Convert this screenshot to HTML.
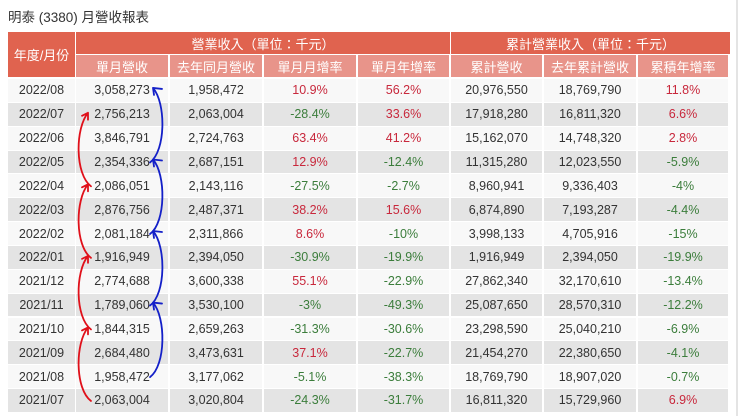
<!DOCTYPE html>
<html><head><meta charset="utf-8">
<style>
body{margin:0;width:740px;height:416px;background:#fff;overflow:hidden;font-family:"Liberation Sans","Noto Sans CJK TC",sans-serif;position:relative}
.c{position:absolute;display:flex;align-items:center;justify-content:center;box-sizing:border-box;font-size:12.5px;color:#333;white-space:nowrap}
.h1{background:#e0634f;color:#fff;font-size:13px}
.h2{background:#e8948a;color:#fff;font-size:13px}
.r{color:#c8283c}.g{color:#3b7d3b}
#title{position:absolute;left:8px;top:6px;font-size:13.5px;color:#333}
#edge{position:absolute;left:736px;top:0;width:2px;height:416px;background:#e4e4e4}
</style></head><body>
<div id="title">明泰 (3380) 月營收報表</div>
<div id="edge"></div>
<div id="tbl"></div>
<svg id="arrows" width="740" height="416" style="position:absolute;left:0;top:0" fill="none" stroke-width="1.8" stroke-linecap="round"></svg>
<script>
const months=["2022/08","2022/07","2022/06","2022/05","2022/04","2022/03","2022/02","2022/01","2021/12","2021/11","2021/10","2021/09","2021/08","2021/07"];
const monthRev=["3,058,273","2,756,213","3,846,791","2,354,336","2,086,051","2,876,756","2,081,184","1,916,949","2,774,688","1,789,060","1,844,315","2,684,480","1,958,472","2,063,004"];
const lastYearRev=["1,958,472","2,063,004","2,724,763","2,687,151","2,143,116","2,487,371","2,311,866","2,394,050","3,600,338","3,530,100","2,659,263","3,473,631","3,177,062","3,020,804"];
const momRate=["10.9%","-28.4%","63.4%","12.9%","-27.5%","38.2%","8.6%","-30.9%","55.1%","-3%","-31.3%","37.1%","-5.1%","-24.3%"];
const yoyRate=["56.2%","33.6%","41.2%","-12.4%","-2.7%","15.6%","-10%","-19.9%","-22.9%","-49.3%","-30.6%","-22.7%","-38.3%","-31.7%"];
const cumRev=["20,976,550","17,918,280","15,162,070","11,315,280","8,960,941","6,874,890","3,998,133","1,916,949","27,862,340","25,087,650","23,298,590","21,454,270","18,769,790","16,811,320"];
const lastCumRev=["18,769,790","16,811,320","14,748,320","12,023,550","9,336,403","7,193,287","4,705,916","2,394,050","32,170,610","28,570,310","25,040,210","22,380,650","18,907,020","15,729,960"];
const cumRate=["11.8%","6.6%","2.8%","-5.9%","-4%","-4.4%","-15%","-19.9%","-13.4%","-12.2%","-6.9%","-4.1%","-0.7%","6.9%"];
const redArcs=[[4,1],[7,4],[10,7],[13,10]];
const blueArcs=[[3,0],[6,3],[9,6],[12,9]];

const T=document.getElementById('tbl');
const X=[8,76,170,264,358,451,544,638,730];
const top0=79,RH=23.85;
function cell(x,y,w,h,cls,txt,name){
  const d=document.createElement('div');
  d.className='c '+cls;
  d.style.left=x+'px';d.style.top=y+'px';d.style.width=w+'px';d.style.height=h+'px';
  d.textContent=txt;
  
  
  T.appendChild(d);return d;
}
cell(8,32,67,45,'h1','年度/月份','header-month');
cell(76,32,374,22,'h1','營業收入（單位：千元）','header-revenue');
cell(451,32,279,22,'h1','累計營業收入（單位：千元）','header-cumulative');
const sub=["單月營收","去年同月營收","單月月增率","單月年增率","累計營收","去年累計營收","累積年增率"];
for(let i=0;i<7;i++)cell(X[i+1],55,X[i+2]-X[i+1]-2,22,'h2',sub[i],'subheader-'+(i+1));
const cols=[months,monthRev,lastYearRev,momRate,yoyRate,cumRev,lastCumRev,cumRate];
for(let r=0;r<months.length;r++){
  const y=top0+r*RH;
  const bg=r%2?'#e4e4e4':'#f8f8f8';
  for(let c=0;c<8;c++){
    let cls='';const v=cols[c][r];
    if(c==3||c==4||c==7)cls=v.startsWith('-')?'g':'r';
    const d=cell(X[c],y,X[c+1]-X[c]-(c==0?1:2),RH-1,cls,v,'cell-'+months[r].replace('/','-')+'-col'+c);
    d.style.background=bg;
  }
}
const S=document.getElementById('arrows');
const ns='http://www.w3.org/2000/svg';
function rowY(i){return top0+i*RH+RH/2;}
function arc(from,to,color,side,name){
  const y1=rowY(from),y2=rowY(to);
  let d;
  if(side<0){
    const x=91;
    d=`M${x},${y1} C${x-16},${y1-12} ${x-16},${y2+14} ${x-3},${y2-2} M${x-3},${y2-2} l-6,3 M${x-3},${y2-2} l0,7`;
  }else{
    const x=150;
    d=`M${x},${y1} C${x+16},${y1-12} ${x+16},${y2+12} ${x+3},${y2-3} M${x+3},${y2-3} l1,7 M${x+3},${y2-3} l9,1`;
  }
  const p=document.createElementNS(ns,'path');
  p.setAttribute('d',d);p.setAttribute('stroke',color);
  
  
  S.appendChild(p);
}
redArcs.forEach((a,i)=>arc(a[0],a[1],'#e0101a',-1,'red-arrow-'+i));
blueArcs.forEach((a,i)=>arc(a[0],a[1],'#1420c8',1,'blue-arrow-'+i));
</script>
</body></html>
